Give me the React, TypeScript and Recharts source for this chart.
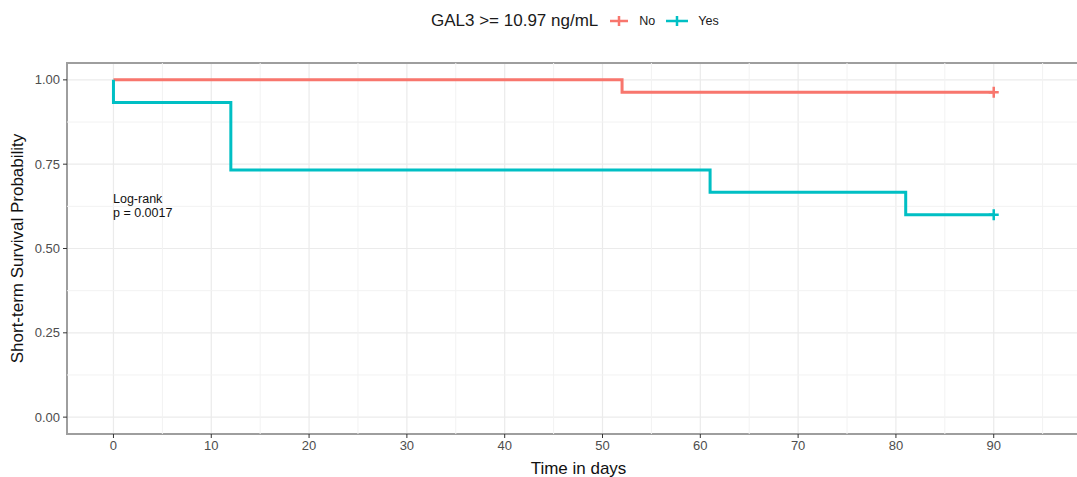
import React from "react";
import {
  LineChart,
  Line,
  XAxis,
  YAxis,
  CartesianGrid,
  ReferenceLine,
  ReferenceArea,
} from "recharts";

// Kaplan-Meier steps
const noTimes = [0, 52, 90];
const noSurv = [1, 0.963, 0.963];
const noCensor = [false, false, true];

const yesTimes = [0, 0, 12, 61, 81, 90];
const yesSurv = [1, 0.933, 0.733, 0.667, 0.6, 0.6];
const yesCensor = [false, false, false, false, false, true];

const xTicks = [0, 10, 20, 30, 40, 50, 60, 70, 80, 90];
const xMinor = [5, 15, 25, 35, 45, 55, 65, 75, 85, 95];
const yTicks = [0, 0.25, 0.5, 0.75, 1];
const yMinor = [0.125, 0.375, 0.625, 0.875];

const RED = "#F8766D";
const TEAL = "#00BFC4";
const FONT = "'Liberation Sans', Arial, sans-serif";

const toRows = (t: number[], s: number[], c: boolean[]) =>
  t.map((time, i) => ({ time, surv: s[i], censor: c[i] }));

const noData = toRows(noTimes, noSurv, noCensor);
const yesData = toRows(yesTimes, yesSurv, yesCensor);

const censorDot = (color: string) => (props: any) => {
  const { cx, cy, payload, index } = props;
  if (!payload || !payload.censor) return <g key={index} />;
  return (
    <path
      key={index}
      d={`M${cx - 5},${cy}H${cx + 5}M${cx},${cy - 5.5}V${cy + 5.5}`}
      stroke={color}
      strokeWidth={2.5}
      fill="none"
    />
  );
};

function LegendKey({ color, w }: { color: string; w: number }) {
  return (
    <svg width={w} height={14} style={{ display: "block" }}>
      <path
        d={`M2,7H${w - 2}M${w / 2},2V12`}
        stroke={color}
        strokeWidth={2.5}
        fill="none"
      />
    </svg>
  );
}

export default function App() {
  return (
    <div
      style={{
        position: "fixed",
        top: 0,
        left: 0,
        width: 1077,
        height: 477,
        overflow: "hidden",
        background: "#fff",
        fontFamily: FONT,
      }}
    >
      <LineChart
        width={1150}
        height={477}
        margin={{ top: 63, right: 12, bottom: 0, left: 0 }}
      >
        <CartesianGrid stroke="#EBEBEB" strokeWidth={1.2} />
        {xMinor.map((v) => (
          <ReferenceLine key={`xm${v}`} x={v} stroke="#F2F2F2" strokeWidth={1} />
        ))}
        {yMinor.map((v) => (
          <ReferenceLine key={`ym${v}`} y={v} stroke="#F2F2F2" strokeWidth={1} />
        ))}
        <XAxis
          type="number"
          dataKey="time"
          domain={[-4.75, 104.75]}
          ticks={xTicks}
          allowDataOverflow
          height={43}
          axisLine={false}
          tickSize={4}
          tickMargin={3}
          tickLine={{ stroke: "#333" }}
          tick={{ fontSize: 13, fill: "#4D4D4D", fontFamily: FONT }}
          label={{
            value: "Time in days",
            position: "insideBottom",
            offset: 3,
            dx: -24,
            style: { fontSize: 17, fill: "#111", fontFamily: FONT },
          }}
        />
        <YAxis
          type="number"
          dataKey="surv"
          domain={[-0.05, 1.05]}
          ticks={yTicks}
          allowDataOverflow
          width={67}
          axisLine={false}
          tickSize={4}
          tickMargin={3}
          tickLine={{ stroke: "#333" }}
          tickFormatter={(v: number) => v.toFixed(2)}
          tick={{ fontSize: 13, fill: "#4D4D4D", fontFamily: FONT }}
          label={{
            value: "Short-term Survival Probability",
            angle: -90,
            position: "center",
            dx: -17,
            style: { fontSize: 17, fill: "#111", fontFamily: FONT, textAnchor: "middle" },
          }}
        />
        <ReferenceArea
          x1={-4.75}
          x2={104.75}
          y1={-0.05}
          y2={1.05}
          fill="none"
          stroke="#9E9E9E"
          strokeWidth={2}
          ifOverflow="visible"
        />
        <Line
          data={noData}
          dataKey="surv"
          type="stepAfter"
          stroke={RED}
          strokeWidth={3}
          dot={censorDot(RED)}
          activeDot={false}
          isAnimationActive={false}
        />
        <Line
          data={yesData}
          dataKey="surv"
          type="stepAfter"
          stroke={TEAL}
          strokeWidth={3}
          dot={censorDot(TEAL)}
          activeDot={false}
          isAnimationActive={false}
        />
      </LineChart>

      {/* legend */}
      <div
        style={{
          position: "absolute",
          zIndex: 2,
          top: 11,
          left: 431,
          display: "flex",
          alignItems: "center",
          color: "#1a1a1a",
          whiteSpace: "nowrap",
        }}
      >
        <span style={{ fontSize: 17, marginRight: 10 }}>GAL3 &gt;= 10.97 ng/mL</span>
        <LegendKey color={RED} w={22} />
        <span style={{ fontSize: 12.5, marginLeft: 9, marginRight: 9 }}>No</span>
        <LegendKey color={TEAL} w={26} />
        <span style={{ fontSize: 12.5, marginLeft: 8 }}>Yes</span>
      </div>

      {/* log-rank annotation */}
      <div
        style={{
          position: "absolute",
          zIndex: 2,
          top: 192,
          left: 113,
          fontSize: 12.5,
          lineHeight: "14px",
          color: "#111",
        }}
      >
        Log-rank
        <br />p = 0.0017
      </div>
    </div>
  );
}
